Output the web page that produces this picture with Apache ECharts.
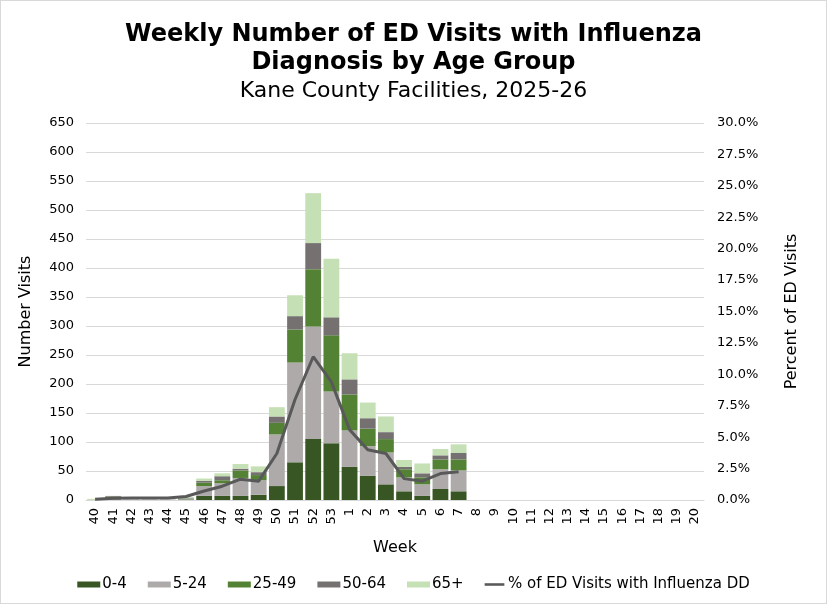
<!DOCTYPE html>
<html>
<head>
<meta charset="utf-8">
<script src="https://cdn.jsdelivr.net/npm/echarts@6/dist/echarts.min.js"></script>
<style>
  html, body { margin: 0; padding: 0; background: #fff; }
  #chart { width: 825px; height: 602px; border: 1px solid #d9d9d9; }
</style>
</head>
<body>
<div id="chart"></div>
<script>
var weeks = ['40','41','42','43','44','45','46','47','48','49','50','51','52','53',
  '1','2','3','4','5','6','7','8','9','10','11','12','13','14','15','16','17','18','19','20'];

// visits per age group, week 40 .. week 7 (later weeks not reported yet)
var age0to4   = [0, 1, 0, 0, 0, 1, 7, 7, 7, 9, 24, 65, 105, 98, 57, 42, 27, 15, 7, 19, 15];
var age5to24  = [0, 2, 1, 1, 1, 2, 17, 22, 31, 25, 89, 172, 194, 89, 63, 51, 55, 24, 20, 34, 36];
var age25to49 = [0, 3, 0, 0, 0, 1, 6, 5, 13, 9, 20, 57, 99, 97, 62, 30, 23, 14, 12, 17, 19];
var age50to64 = [0, 1, 0, 0, 0, 0, 3, 7, 3, 5, 11, 23, 45, 31, 26, 18, 12, 4, 7, 7, 11];
var age65plus = [2, 0, 0, 0, 0, 1, 4, 5, 8, 10, 16, 36, 86, 101, 45, 27, 27, 12, 17, 11, 15];

// % of ED visits with influenza DD
var pctFlu = [0.05, 0.13, 0.15, 0.15, 0.15, 0.28, 0.72, 1.1, 1.66, 1.5, 3.7, 8.0, 11.4, 9.4,
  5.6, 4.0, 3.7, 1.7, 1.5, 2.1, 2.25];

var fontName = 'DejaVu Sans';
var myChart = echarts.init(document.getElementById('chart'));

function barSeries(name, data, color) {
  return {
    name: name,
    type: 'bar',
    stack: 'visits',
    data: data,
    barCategoryGap: '13%',
    itemStyle: { color: color },
    emphasis: { disabled: true }
  };
}

var option = {
  animation: false,
  textStyle: { fontFamily: fontName },
  title: [
    {
      text: 'Weekly Number of ED Visits with Influenza\nDiagnosis by Age Group',
      left: 'center',
      top: 15,
      textStyle: { fontSize: 24, fontWeight: 'bold', color: '#000', lineHeight: 28, fontFamily: fontName }
    },
    {
      text: 'Kane County Facilities, 2025-26',
      left: 'center',
      top: 74,
      textStyle: { fontSize: 22, fontWeight: 'normal', color: '#000', fontFamily: fontName }
    }
  ],
  legend: {
    top: 571,
    left: 'center',
    itemGap: 21,
    itemWidth: 23,
    itemHeight: 6,
    textStyle: { fontSize: 15, color: '#000', fontFamily: fontName, padding: [0, 0, 0, -3] },
    data: [
      { name: '0-4', icon: 'rect' },
      { name: '5-24', icon: 'rect' },
      { name: '25-49', icon: 'rect' },
      { name: '50-64', icon: 'rect' },
      { name: '65+', icon: 'rect' },
      { name: '% of ED Visits with Influenza DD', icon: 'path://M0,0 L0,0 M0,2 L23,2 L23,5 L0,5 Z M0,7 L0,7' }
    ]
  },
  grid: { left: 85, right: 122, top: 122, bottom: 103 },
  xAxis: {
    type: 'category',
    data: weeks,
    name: 'Week',
    nameLocation: 'middle',
    nameGap: 40,
    nameTextStyle: { fontSize: 16, color: '#000' },
    axisLine: { lineStyle: { color: '#d9d9d9', width: 1 } },
    axisTick: { show: false },
    axisLabel: { rotate: 90, fontSize: 13, color: '#000', interval: 0, margin: 8 }
  },
  yAxis: [
    {
      type: 'value',
      min: 0,
      max: 650,
      interval: 50,
      name: 'Number Visits',
      nameLocation: 'middle',
      nameGap: 52,
      nameTextStyle: { fontSize: 16, color: '#000' },
      axisLine: { show: false },
      axisTick: { show: false },
      axisLabel: { fontSize: 13, color: '#000', margin: 12 },
      splitLine: { lineStyle: { color: '#d9d9d9', width: 1 } }
    },
    {
      type: 'value',
      min: 0,
      max: 30,
      interval: 2.5,
      name: 'Percent of ED Visits',
      nameLocation: 'middle',
      nameGap: 80,
      nameRotate: 90,
      nameTextStyle: { fontSize: 16, color: '#000' },
      axisLine: { show: false },
      axisTick: { show: false },
      axisLabel: {
        fontSize: 13,
        color: '#000',
        margin: 13,
        formatter: function (v) { return v.toFixed(1) + '%'; }
      },
      splitLine: { show: false }
    }
  ],
  series: [
    barSeries('0-4', age0to4, '#375623'),
    barSeries('5-24', age5to24, '#aeaaaa'),
    barSeries('25-49', age25to49, '#548235'),
    barSeries('50-64', age50to64, '#767171'),
    barSeries('65+', age65plus, '#c5e0b4'),
    {
      name: '% of ED Visits with Influenza DD',
      type: 'line',
      yAxisIndex: 1,
      data: pctFlu,
      symbol: 'none',
      z: 5,
      color: '#595959',
      lineStyle: { color: '#595959', width: 3 },
      emphasis: { disabled: true }
    }
  ]
};
myChart.setOption(option);
</script>
</body>
</html>
